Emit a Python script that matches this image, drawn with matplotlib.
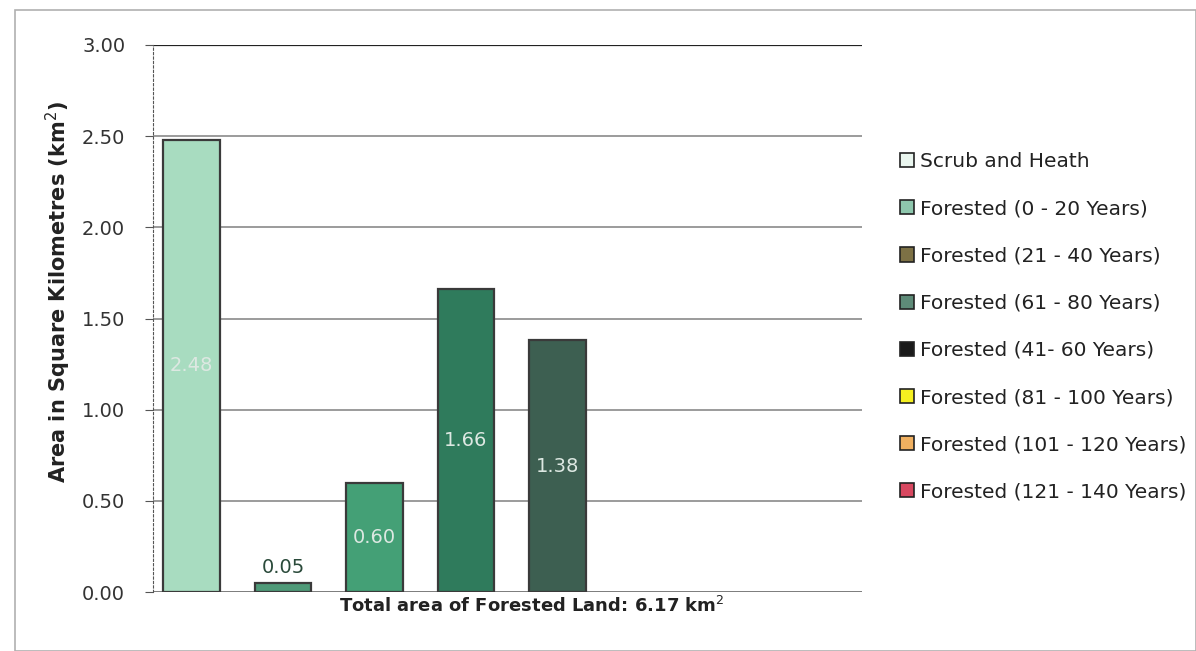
import matplotlib

matplotlib.use("Agg")
import matplotlib.pyplot as plt
from matplotlib.patches import Patch, Rectangle

# Dados
series = [
    "Scrub and Heath",
    "Forested (0 - 20 Years)",
    "Forested (21 - 40 Years)",
    "Forested (61 - 80 Years)",
    "Forested (41- 60 Years)",
    "Forested (81 - 100 Years)",
    "Forested (101 - 120 Years)",
    "Forested (121 - 140 Years)",
]
valores = [2.48, 0.05, 0.60, 1.66, 1.38, 0.0, 0.0, 0.0]
cores_barras = ["#a8dcc0", "#4f9a78", "#44a076", "#2f7b5c", "#3d5f51",
                "#f5f020", "#f0b060", "#d84860"]
cores_legenda = ["#eaf6ef", "#8ec7ad", "#7d7145", "#5e8b78", "#1a1a1a",
                 "#f5f020", "#f0b060", "#d84860"]
yticks = [0.0, 0.5, 1.0, 1.5, 2.0, 2.5, 3.0]

W, H = 1196, 651
fig = plt.figure(figsize=(W / 100, H / 100), dpi=100)
fig.patches.append(Rectangle((15 / W, 0), 1 - 15 / W, 1 - 10 / H,
                             transform=fig.transFigure, fill=False,
                             edgecolor="#b0b0b0", lw=1.2))

ax = fig.add_axes([153 / W, 1 - 592 / H, (862 - 153) / W, (592 - 45) / H])
for i, (v, c) in enumerate(zip(valores, cores_barras)):
    if v <= 0:
        continue
    ax.bar(i, v, width=0.62, color=c, edgecolor="#3a3a3a", lw=1.6, zorder=3)
    if v < 0.2:
        ax.text(i, v + 0.03, f"{v:.2f}", ha="center", va="bottom",
                fontsize=14, color="#2a4a3a", zorder=4)
    else:
        ax.text(i, v / 2, f"{v:.2f}", ha="center", va="center",
                fontsize=14, color="#dde8e2", zorder=4)

ax.set_xlim(-0.42, 7.33)
ax.set_ylim(0, 3.0)
ax.set_yticks(yticks)
ax.set_yticklabels([f"{t:.2f}" for t in yticks], fontsize=14, color="#333333")
ax.set_xticks([])
for t in yticks[1:-1]:
    ax.axhline(t, color="#8a8a8a", lw=1.2, zorder=1)
ax.axhline(3.0, color="#222222", lw=1.6, zorder=1)
ax.axhline(0.0, color="#666666", lw=1.2, zorder=2)
for s in ["top", "right", "bottom"]:
    ax.spines[s].set_visible(False)
ax.spines["left"].set_linestyle((0, (2, 2)))
ax.spines["left"].set_color("#555555")
ax.tick_params(axis="y", length=6, color="#555555", pad=14)

ax.set_ylabel("Area in Square Kilometres (km$^{2}$)", fontsize=15,
              fontweight="bold", color="#222222")
ax.yaxis.set_label_coords(-0.113, 0.548)
fig.text(532 / W, 1 - 606 / H, "Total area of Forested Land: 6.17 km$^{2}$",
         ha="center", va="center", fontsize=13, fontweight="bold",
         color="#222222")

handles = [Patch(facecolor=c, edgecolor="#222222", lw=1.2) for c in cores_legenda]
fig.legend(handles, series, loc="upper left",
           bbox_to_anchor=(882 / W, 1 - 134 / H), frameon=False,
           fontsize=14.5, labelspacing=1.4, handlelength=0.7,
           handleheight=0.7, handletextpad=0.3, labelcolor="#222222")

fig.savefig("out.png", dpi=100)
